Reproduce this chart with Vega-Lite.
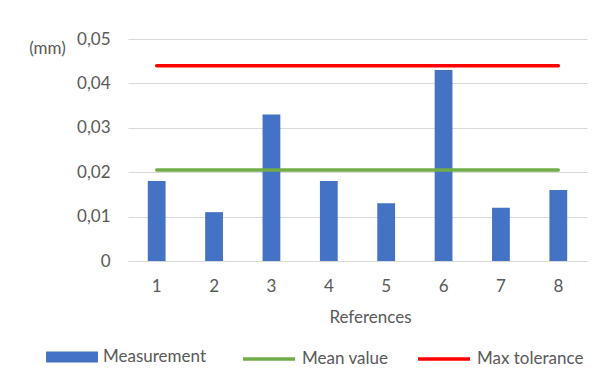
{
  "$schema": "https://vega.github.io/schema/vega-lite/v6.json",
  "autosize": "none",
  "width": 459,
  "height": 222,
  "padding": {"left": 128, "top": 39, "right": 17, "bottom": 122},
  "background": "white",
  "config": {
    "view": {"stroke": null},
    "font": "Lato",
    "axis": {"labelFont": "Lato", "titleFont": "Lato", "labelColor": "#595959", "titleColor": "#595959", "titleFontWeight": "normal"},
    "legend": {"labelFont": "Lato", "labelFontSize": 17, "labelColor": "#595959", "labelOffset": 5, "columnPadding": 22, "padding": 0}
  },
  "data": {
    "values": [
      {"ref": "1", "series": "Measurement", "value": 0.018},
      {"ref": "2", "series": "Measurement", "value": 0.011},
      {"ref": "3", "series": "Measurement", "value": 0.033},
      {"ref": "4", "series": "Measurement", "value": 0.018},
      {"ref": "5", "series": "Measurement", "value": 0.013},
      {"ref": "6", "series": "Measurement", "value": 0.043},
      {"ref": "7", "series": "Measurement", "value": 0.012},
      {"ref": "8", "series": "Measurement", "value": 0.016},
      {"ref": "1", "series": "Mean value", "value": 0.0205},
      {"ref": "2", "series": "Mean value", "value": 0.0205},
      {"ref": "3", "series": "Mean value", "value": 0.0205},
      {"ref": "4", "series": "Mean value", "value": 0.0205},
      {"ref": "5", "series": "Mean value", "value": 0.0205},
      {"ref": "6", "series": "Mean value", "value": 0.0205},
      {"ref": "7", "series": "Mean value", "value": 0.0205},
      {"ref": "8", "series": "Mean value", "value": 0.0205},
      {"ref": "1", "series": "Max tolerance", "value": 0.044},
      {"ref": "2", "series": "Max tolerance", "value": 0.044},
      {"ref": "3", "series": "Max tolerance", "value": 0.044},
      {"ref": "4", "series": "Max tolerance", "value": 0.044},
      {"ref": "5", "series": "Max tolerance", "value": 0.044},
      {"ref": "6", "series": "Max tolerance", "value": 0.044},
      {"ref": "7", "series": "Max tolerance", "value": 0.044},
      {"ref": "8", "series": "Max tolerance", "value": 0.044}
    ]
  },
  "encoding": {
    "x": {
      "field": "ref", "type": "ordinal",
      "scale": {"paddingInner": 0.69, "paddingOuter": 0.345},
      "axis": {
        "title": "References", "titleFontSize": 17, "titleX": 242, "titleAlign": "center", "titlePadding": 15,
        "labelAngle": 0, "labelFontSize": 17, "labelPadding": 17, "ticks": false,
        "domainColor": "#d9d9d9", "domainWidth": 1
      }
    },
    "y": {
      "field": "value", "type": "quantitative",
      "scale": {"domain": [0, 0.05], "nice": false},
      "axis": {
        "title": "(mm)", "titleAngle": 0, "titleX": -81, "titleY": 9, "titleAlign": "center", "titleBaseline": "middle", "titleFontSize": 17,
        "values": [0, 0.01, 0.02, 0.03, 0.04, 0.05],
        "labelExpr": "datum.value == 0 ? '0' : replace(format(datum.value, '.2f'), '.', ',')",
        "labelFontSize": 17, "labelPadding": 18, "ticks": false, "domain": false,
        "gridColor": "#d9d9d9", "gridWidth": 1
      }
    }
  },
  "layer": [
    {
      "transform": [{"filter": "datum.series === 'Measurement'"}],
      "mark": {"type": "bar"},
      "encoding": {
        "fill": {
          "field": "series", "type": "nominal",
          "scale": {"domain": ["Measurement"], "range": ["#4472C4"]},
          "legend": {
            "title": null, "orient": "none", "direction": "horizontal",
            "legendX": -82, "legendY": 292,
            "symbolType": "M-1,-0.21H1V0.21H-1Z", "symbolSize": 2704, "symbolStrokeWidth": 0, "symbolOpacity": 1
          }
        }
      }
    },
    {
      "transform": [{"filter": "datum.series !== 'Measurement'"}],
      "mark": {"type": "line", "strokeWidth": 3.5, "strokeCap": "round"},
      "encoding": {
        "stroke": {
          "field": "series", "type": "nominal",
          "scale": {"domain": ["Mean value", "Max tolerance"], "range": ["#70AD47", "#FF0000"]},
          "legend": {
            "title": null, "orient": "none", "direction": "horizontal", "columns": 2,
            "legendX": 113, "legendY": 292,
            "symbolType": "stroke", "symbolSize": 2704, "symbolStrokeWidth": 3.5, "symbolOpacity": 1
          }
        }
      }
    }
  ]
}
